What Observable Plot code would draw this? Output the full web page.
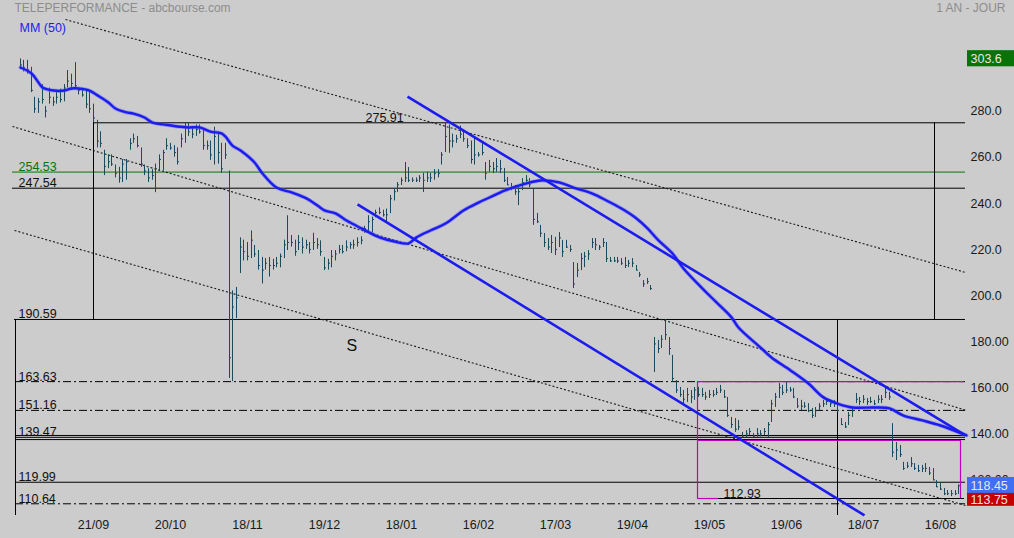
<!DOCTYPE html>
<html><head><meta charset="utf-8">
<script src="https://cdn.jsdelivr.net/npm/d3@7"></script>
<script src="https://cdn.jsdelivr.net/npm/@observablehq/plot@0.6"></script>
<style>html,body{margin:0;padding:0;background:#cccccc;overflow:hidden}#chart svg{display:block}</style>
</head><body><div id="chart"></div>
<script>
// ---- data (trading-day index on x, price on y) ----
const tickIdx = [20,41,62,83,104,125,146,167,188,209,230,251];
const tickLabels = ["21/09","20/10","18/11","19/12","18/01","16/02","17/03","19/04","19/05","19/06","18/07","16/08"];
const yTicks = [120,140,160,180,200,220,240,260,280];

const high = [
303.6,303,303,300,287,286.5,292.5,283,291,287,
289,290.5,292.5,298.6,297,302,291,291,290,289,
284,277,272,264,262,262,257.6,256.6,260,260,
269,271,270,265,257.6,256,255.6,258,262,264,
269,267,266,265,271,276,276,274,275,275,
273,268,268,274,272,267,267,255,203,204.5,
226,225,224,229,222.7,220.5,217.5,217,217.5,216.7,
217.5,219,225,235.6,227,225,227,226,225,224,
228,225.7,224.7,217.5,216.7,220.5,220.5,222.7,222.7,224.7,
224,225,226,226.5,231,235.6,235,238,239,238,
238.5,244.4,247.4,250,252,258.7,256.5,252,252,253,
254,254.5,254,255.6,255.6,263,275.91,275,271,270.5,
274.5,272.5,269,268,269.7,263,267.5,258.7,259.6,258.7,
260.4,259.6,256.1,252.2,249.6,248.7,247.8,251.7,253,251.7,
247.4,236.6,231.4,227.9,225.7,227,226.2,228.3,224.9,224.9,
222.7,215.3,214.9,219.2,219.7,220.5,225.7,225.7,222.7,225.7,
224,217.5,217.5,217.5,217,217.5,216.2,217,214,211,
207.5,208.4,205.3,182.8,181.5,183.6,190.59,182.8,175,164.1,
161.1,159.8,160.7,159.8,161.1,161.1,160.7,159,159.8,159.8,
160.7,162,159.8,156.8,148.1,147.6,146.8,141.6,142.4,143.3,
141.1,143.3,142.4,143.3,145.9,155.5,158.5,162.8,162,163.3,
161.1,160.7,156.3,155.5,154.6,154.1,152,152.4,154.1,155.5,
156.3,155.5,155.5,154.1,147.6,145.9,150.2,152.4,158.5,156.8,
157.6,156.3,156.8,155.5,157.6,157.6,161.1,159,145.4,137.2,
135.9,128.6,128.6,130.7,128.1,127.3,127.3,128.1,126.4,125.9,
120.7,119.4,117.3,116.4,116.4,116.4,118.9];

const low = [
299,298,297,289,280,280,284,278,284,283,
284,284.5,285,291,291,291,288,287,282,280,
276,265,265,253,256,257,252,249.7,250,251,
264,267,265,256.6,253,250,251,245.6,255,255,
264,264,261,257.6,265,267,270,269,270,271,
264,264,259.6,257.6,258,254,260,165,163.63,191,
210.5,216,216,217,217.5,212,206,212,209,212,
213,213,217,220.5,222,218,220.5,219,221,219,
220.5,221,218,211.8,212,213,216,219,219,220,
221,221,222,223,228,228,228,234.7,236,235,
233,236.5,242,245.7,248.7,250,250,250,250,250,
245.7,250,250,251,252,257.6,263,262.7,265,267,
269,267.5,264.7,258,257.6,261,261.6,251,254.4,253.9,
254.4,253.9,250,248.7,246.5,244.4,240,246.5,250,247.8,
231.4,232.2,226.2,221.8,220.5,219.2,218.3,221.8,217.5,221.4,
219.7,204,208.8,211.8,213.1,216.2,221.4,220.5,220.5,221.8,
215.3,215.3,215.3,214.9,214,212.7,213.1,213.1,211.8,208.8,
204.5,205.8,203.2,167.6,175.8,178,181.5,175,163.3,158.5,
156.8,154.1,154.6,154.1,155.5,156.8,156.8,155.5,156.3,156.8,
157.6,158.5,156.3,148.1,143.3,141.6,142.4,139.5,139.4,140.3,
139.5,139.47,139.6,140.3,139.4,145.9,152.4,156.3,157.6,158.5,
159,156.3,152,151.1,152,150.2,147.6,148.1,151.1,152.4,
153.3,152.4,152.4,150.2,144.6,143.3,144.6,148.1,154.1,153.3,
154.1,153.3,154.1,153.3,154.1,154.1,156.3,155.5,130.7,129.4,
130.7,125.1,125.9,126.4,125.1,124.2,124.2,124.2,122.9,120.7,
117.7,116.4,114.2,114.2,113.75,114.2,114.7];

const close = [
301,300,299,290,282,285,286,281,287,285,
287,286,291,294,293,292,290,288,284,282,
278,268,267,257,259,258,254,252,258,259,
267,269,266,258,255,252,253,256,260,263,
266,265,263,259,269,274,272,271,273,272,
266,266,262,270,263,256,262,174,196,200,
222,220,218,225,219,214,212,215,214,214,
215,218,223,224,224,220,224,222,223,221,
224,223,220,213,215,218,219,221,220,222,
223,223,224,225,230,233,234,237,237,236,
236,243,246,249,251,252,251,251,251,252,
251,252,252,254,254,262,270,268,268,269,
271,269,266,260,262,262,263,254,257,256,
257,256,251,249,248,246,246,250,251,249,
234,233,228,224,222,224,221,226,220,222,
221,206,212,217,218,219,224,223,222,224,
217,216,216,216,215,214,215,215,212,210,
206,207,204,180,178,182,184,178,165,160,
158,156,158,157,160,158,158,157,158,158,
159,160,157,149,145,143,144,140,141,142,
140,141,141,142,145,154,157,161,159,160,
160,157,153,153,153,151,149,151,153,154,
155,154,154,151,145,144,149,151,156,155,
156,155,155,154,156,156,159,157,133,134,
132,126,127,128,126,125,126,126,124,121,
118,117,115,115,115,115,118.45];

// MM (50)
const mmIdx = [0,3,5,6,9,12,14,16,19,21,24,26,29,31,34,36,39,43,46,49,52,55,56,58,60,64,66,70,74,78,81,83,86,89,93,98,102,106,108,112,116,121,125,128,132,138,142,147,151,156,160,164,168,171,174,178,181,186,190,194,196,202,205,210,215,219,223,227,233,237,241,246,251,258];
const mmVal = [299.9,297.3,293.4,291.2,289.9,289.9,290.8,290.8,289.9,287.8,284.7,282.1,280.4,279.9,278.2,276.0,275.2,274.3,273.9,273.9,272.1,271.3,269.9,266.0,263.9,258.7,253.9,247.8,245.7,243.1,240.0,237.9,236.6,233.5,230.1,226.2,224.4,223.6,226.2,229.2,232.2,237.9,241.3,243.5,246.5,249.6,250.9,250.0,247.8,245.2,242.2,238.7,234.4,230.1,224.9,219.2,212.7,204.0,198.0,191.5,187.1,178.4,174.1,168.5,162.8,156.8,154.1,152.4,152.4,152.0,148.9,146.8,144.6,140.3];

// horizontal levels: price, from index, to index, kind
const levelPrice = [275.91,254.53,247.54,190.59,163.63,151.16,140.27,139.47,138.5,119.99,110.64,112.93];
const levelFrom  = [20,-2.1,-2.1,-1.5,-1.3,-1.3,-1.3,-1.3,-1.3,-1.3,-1.3,190.4];
const levelTo    = [257.8,257.8,257.8,257.8,257.8,257.8,257.8,257.8,257.8,257.8,257.8,257.5];
const levelKind  = ["solid","green","solid","solid","dashdot","dashdot","solid","solid","solid","solid","dashdot","solid"];
const levelLabel = ["","254.53","247.54","190.59","163.63","151.16","","139.47","","119.99","110.64",""];

// vertical segments: index, top price, bottom price (null = bottom of chart)
const vIdx = [20, 249.3, -1.3, 222.8];
const vTop = [275.91, 275.91, 190.59, 190.59];
const vBot = [190.59, 190.59, null, null];

// magenta zone
const magH = [[163.63,184.7,257.5],[138.1,184.7,256.4],[112.93,184.7,190.4]];
const magV = [[184.7,163.63,112.93],[256.4,138.1,112.93]];

// trend lines: [i1, p1, i2, p2]
const dottedLines = [[12.4,320.7,257.8,211.0],[-2.1,274.3,257.8,151.3],[-1.6,229.2,257.8,109.9]];
const blueLines = [[105.6,287.3,257.8,140.3],[92.0,240.5,230.2,105.6]];

const notes = [{i:94.2,p:275.91,t:"275.91"},{i:191.8,p:112.93,t:"112.93"}];
const sNote = [{i:89,p:179.3,t:"S"}];

const tagValue = [303.6, 118.45, 113.75];
const tagColor = ["#087308","#3f6ff2","#c40000"];

// ---- build ----
const Y_MIN = 105.56, Y_MAX = 328.96;
const bars = high.map((h,i)=>({i, high:h, low:low[i], close:close[i]}));
const mm = mmIdx.map((i,k)=>({i, v:mmVal[k]}));
const levels = levelPrice.map((p,k)=>({p, a:levelFrom[k], b:levelTo[k], kind:levelKind[k], label:levelLabel[k]}));
const vlines = vIdx.map((i,k)=>({i, top:vTop[k], bot:vBot[k] ?? Y_MIN}));
const dotted = dottedLines.map(([i1,p1,i2,p2])=>({i1,p1,i2,p2}));
const blues = blueLines.map(([i1,p1,i2,p2])=>({i1,p1,i2,p2}));
const tags = tagValue.map((v,k)=>({v, k, color:tagColor[k], t: v >= 200 ? v.toFixed(1) : v.toFixed(2)}));
const tagTop = d => d.k === 2 ? d.v + 1.4 : d.v + 3.6;
const tagBot = d => d.k === 2 ? d.v - 4.2 : d.v - 3.4;

const BLUE = "#1c1cf0", BAR = "#1b4a5c", GREEN = "#0a720a", MAG = "#c000c0";

const chart = Plot.plot({
  width: 1014, height: 538,
  marginTop: 0, marginBottom: 23, marginLeft: 12, marginRight: 49,
  style: {background: "#cccccc", fontFamily: "'Liberation Sans', Arial, sans-serif", fontSize: "12.5px", color: "#1a1a1a", overflow: "visible"},
  x: {type: "linear", domain: [-2.1, 257.8], round: true},
  y: {type: "linear", domain: [Y_MIN, Y_MAX]},
  marks: [
    // level lines
    Plot.ruleY(levels.filter(d=>d.kind==="solid"), {y:"p", x1:"a", x2:"b", stroke:"#000", strokeWidth:1}),
    Plot.ruleY(levels.filter(d=>d.kind==="green"), {y:"p", x1:"a", x2:"b", stroke:GREEN, strokeWidth:1}),
    Plot.ruleY(levels.filter(d=>d.kind==="dashdot"), {y:"p", x1:"a", x2:"b", stroke:"#000", strokeWidth:1, strokeDasharray:"8,3,2,3"}),
    Plot.ruleX(vlines, {x:"i", y1:"top", y2:"bot", stroke:"#000", strokeWidth:1}),
    // magenta zone
    Plot.ruleY(magH, {y:d=>d[0], x1:d=>d[1], x2:d=>d[2], stroke:MAG, strokeWidth:1.2}),
    Plot.ruleX(magV, {x:d=>d[0], y1:d=>d[1], y2:d=>d[2], stroke:MAG, strokeWidth:1.2}),
    // dotted channel
    Plot.link(dotted, {x1:"i1", y1:"p1", x2:"i2", y2:"p2", stroke:"#1a1a1a", strokeWidth:1.1, strokeDasharray:"2,2"}),
    // price bars
    Plot.ruleX(bars, {x:"i", y1:"low", y2:"high", stroke:BAR, strokeWidth:1}),
    Plot.ruleY(bars, {y:"close", x1:"i", x2:d=>d.i+0.55, stroke:BAR, strokeWidth:1}),
    // MM 50
    Plot.line(mm, {x:"i", y:"v", stroke:"#6060f8", strokeWidth:4, strokeOpacity:0.45, curve:"catmull-rom"}),
    Plot.line(mm, {x:"i", y:"v", stroke:BLUE, strokeWidth:2.4, curve:"catmull-rom"}),
    // blue trend lines
    Plot.link(blues, {x1:"i1", y1:"p1", x2:"i2", y2:"p2", stroke:BLUE, strokeWidth:2.6}),
    // level labels
    Plot.text(levels.filter(d=>d.label && d.kind!=="green"), {y:"p", text:"label", frameAnchor:"left", dx:6, dy:-1, lineAnchor:"bottom", textAnchor:"start", fill:"#111"}),
    Plot.text(levels.filter(d=>d.kind==="green"), {y:"p", text:"label", frameAnchor:"left", dx:6, dy:-1, lineAnchor:"bottom", textAnchor:"start", fill:GREEN}),
    Plot.text(notes, {x:"i", y:"p", text:"t", dy:-1, lineAnchor:"bottom", textAnchor:"start", fill:"#111"}),
    Plot.text(sNote, {x:"i", y:"p", text:"t", textAnchor:"start", fill:"#111", fontSize:16}),
    // titles
    Plot.text(["TELEPERFORMANCE - abcbourse.com"], {text:d=>d, frameAnchor:"top-left", dx:2, dy:3, lineAnchor:"top", textAnchor:"start", fill:"#8c8c8c", fontSize:12}),
    Plot.text(["1 AN - JOUR"], {text:d=>d, frameAnchor:"top-right", dx:40, dy:3, lineAnchor:"top", textAnchor:"end", fill:"#8c8c8c", fontSize:12}),
    Plot.text(["MM (50)"], {text:d=>d, frameAnchor:"top-left", dx:7, dy:23, lineAnchor:"top", textAnchor:"start", fill:BLUE}),
    // axes
    Plot.axisX({ticks: tickIdx, tickFormat: d => tickLabels[tickIdx.indexOf(d)], tickSize:0, tickPadding:5, label:null, fill:"#1a1a1a"}),
    Plot.axisY({anchor:"right", ticks: yTicks, tickFormat: d => d >= 200 ? d.toFixed(1) : d.toFixed(2), tickSize:0, tickPadding:5, dy:-2, label:null, fill:"#1a1a1a"}),
    // price tags
    Plot.rect(tags, {x1:258.3, x2:275, y1:tagTop, y2:tagBot, fill:"color"}),
    Plot.text(tags, {x:258.3, y:d => (tagTop(d)+tagBot(d))/2, text:"t", dx:3, textAnchor:"start", fill:"#e8e8e8"})
  ]
});
document.getElementById("chart").append(chart);
</script>
</body></html>
